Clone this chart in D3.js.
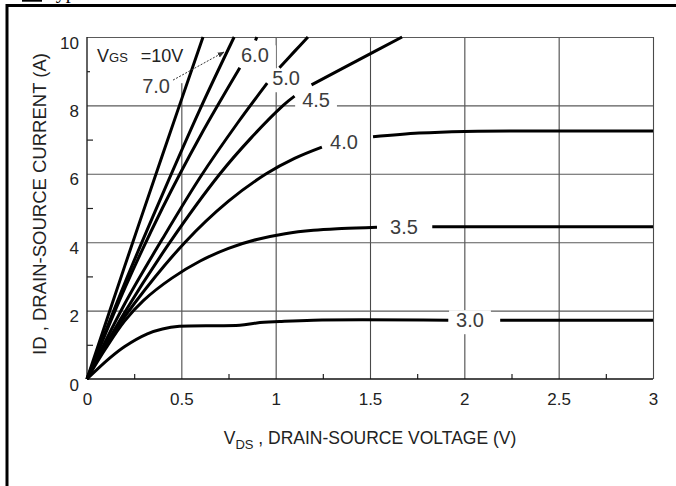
<!DOCTYPE html>
<html>
<head>
<meta charset="utf-8">
<script src="https://cdn.jsdelivr.net/npm/d3@7"></script>
<style>
  body { margin: 0; background: #fff; }
  svg { display: block; font-family: "Liberation Sans", Arial, sans-serif; }
</style>
</head>
<body>
<div id="chart"></div>
<script>
// Output characteristics: [VDS (V), ID (A)]
// null marks the gap in a curve where its VGS label sits
const curve10 = [[0, 0], [0.2, 3.3], [0.4, 6.55], [0.615, 10]];
const curve70 = [[0, 0], [0.2, 2.8], [0.4, 5.4], [0.6, 7.9], [0.78, 10]];
const curve60 = [[0, 0], [0.2, 2.65], [0.4, 5.0], [0.6, 7.1], [0.81, 9.1], null, [0.893, 9.9], [0.90, 10]];
const curve50 = [[0, 0], [0.2, 2.2], [0.4, 4.1], [0.6, 5.9], [0.8, 7.5], [0.955, 8.65], null, [1.02, 9.1], [1.1, 9.58], [1.171, 10]];
const curve45 = [[0, 0], [0.2, 1.95], [0.44, 4], [0.705, 6], [0.87, 7.05], [1.04, 8], [1.10, 8.27], null, [1.19, 8.6], [1.43, 9.3], [1.67, 10]];
const curve40 = [[0, 0], [0.1, 1.0], [0.25, 2.2], [0.52, 4], [0.75, 5.2], [0.95, 6], [1.1, 6.45], [1.245, 6.78], null, [1.516, 7.08], [1.76, 7.19], [2.0, 7.24], [2.5, 7.25], [3, 7.25]];
const curve35 = [[0, 0], [0.1, 0.9], [0.2, 1.7], [0.3, 2.3], [0.45, 2.95], [0.6, 3.45], [0.75, 3.82], [0.9, 4.08], [1.05, 4.25], [1.2, 4.35], [1.35, 4.4], [1.537, 4.44], null, [1.83, 4.45], [2.5, 4.45], [3, 4.45]];
const curve30 = [[0, 0], [0.12, 0.61], [0.2, 0.95], [0.32, 1.32], [0.4, 1.46], [0.49, 1.54], [0.81, 1.57], [0.9, 1.64], [1.02, 1.68], [1.2, 1.72], [1.915, 1.72], null, [2.19, 1.72], [3, 1.72]];

const curves = [curve10, curve70, curve60, curve50, curve45, curve40, curve35, curve30];

// curve labels and where they sit (text centre, in V / A)
const labelText = ["6.0", "5.0", "4.5", "4.0", "3.5", "3.0"];
const labelAt = [[0.89, 9.47], [1.055, 8.80], [1.214, 8.16], [1.362, 6.93], [1.68, 4.44], [2.03, 1.725]];
const label70At = [0.366, 8.57];
const arrow70 = [[0.456, 8.74], [0.726, 9.56]];

const xTicks = [0, 0.5, 1, 1.5, 2, 2.5, 3];
const yTicks = [0, 2, 4, 6, 8, 10];
const xMinor = [0.25, 0.75, 1.25, 1.75, 2.25, 2.75];
const yMinor = [1, 3, 5, 7, 9];

const props = {
  width: 676,
  height: 486,
  left: 87,
  top: 37,
  plotW: 566,
  plotH: 342,
};

const svg = d3.select("#chart").append("svg")
  .attr("width", props.width)
  .attr("height", props.height);

// clipped heading of the page and the outer frame
svg.append("rect")
  .attr("x", 22).attr("y", -20)
  .attr("width", 20).attr("height", 21.7)
  .attr("fill", "#000");
svg.append("text")
  .attr("x", 45).attr("y", -2)
  .style("font-family", "'Liberation Serif', 'Times New Roman', serif")
  .style("font-size", "20px")
  .text("Typical Characteristics");
svg.append("rect")
  .attr("x", 7).attr("y", 5.5)
  .attr("width", 720).attr("height", 520)
  .attr("fill", "none")
  .attr("stroke", "#000")
  .attr("stroke-width", 3);

const x = d3.scaleLinear().domain([0, 3]).range([props.left, props.left + props.plotW]);
const y = d3.scaleLinear().domain([0, 10]).range([props.top + props.plotH, props.top]);

const gGrid = svg.append("g");
const gBoxes = svg.append("g");
const gCurves = svg.append("g");
const gText = svg.append("g");

// grid lines
gGrid.append("g")
  .attr("class", "grid")
  .attr("transform", `translate(0,${y(0)})`)
  .call(d3.axisBottom(x).tickValues(xTicks.slice(1)).tickSize(-props.plotH).tickFormat(""))
  .call(g => g.select(".domain").remove())
  .call(g => g.selectAll("line").attr("stroke", "#4a4a4a").attr("stroke-width", 1.1));

gGrid.append("g")
  .attr("class", "grid")
  .attr("transform", `translate(${x(0)},0)`)
  .call(d3.axisLeft(y).tickValues(yTicks.slice(1)).tickSize(-props.plotW).tickFormat(""))
  .call(g => g.select(".domain").remove())
  .call(g => g.selectAll("line").attr("stroke", "#5a5a5a").attr("stroke-width", 1.1));

// minor ticks, pointing into the plot
gGrid.append("g")
  .attr("transform", `translate(0,${y(0)})`)
  .call(d3.axisBottom(x).tickValues(xMinor).tickSize(-5).tickFormat(""))
  .call(g => g.select(".domain").remove())
  .call(g => g.selectAll("line").attr("stroke", "#222").attr("stroke-width", 1.2));

gGrid.append("g")
  .attr("transform", `translate(${x(0)},0)`)
  .call(d3.axisLeft(y).tickValues(yMinor).tickSize(-6).tickFormat(""))
  .call(g => g.select(".domain").remove())
  .call(g => g.selectAll("line").attr("stroke", "#222").attr("stroke-width", 1.2));

// axis lines
gGrid.append("line")
  .attr("x1", x(0)).attr("x2", x(3))
  .attr("y1", y(0)).attr("y2", y(0))
  .attr("stroke", "#111").attr("stroke-width", 1.6);
gGrid.append("line")
  .attr("x1", x(0)).attr("x2", x(0))
  .attr("y1", y(0)).attr("y2", y(10))
  .attr("stroke", "#222").attr("stroke-width", 1.4);

// tick labels
const xAxis = svg.append("g")
  .attr("transform", `translate(0,${y(0)})`)
  .call(d3.axisBottom(x).tickValues(xTicks).tickSize(0).tickPadding(14).tickFormat(d => String(d)));
xAxis.select(".domain").remove();
xAxis.selectAll("text")
  .style("font-size", "17px")
  .attr("fill", "#222");

const yAxis = svg.append("g")
  .attr("transform", `translate(${x(0) - 8},0)`)
  .call(d3.axisLeft(y).tickValues(yTicks).tickSize(0).tickPadding(0).tickFormat(d => String(d)));
yAxis.select(".domain").remove();
yAxis.selectAll("text")
  .style("font-size", "17px")
  .attr("fill", "#222")
  .attr("dy", "0.95em")
  .attr("y", -5);

// axis titles
const xTitle = svg.append("text")
  .attr("x", (x(0) + x(3)) / 2)
  .attr("y", 444)
  .style("text-anchor", "middle")
  .style("font-size", "17.5px")
  .attr("fill", "#222");
xTitle.append("tspan").text("V");
xTitle.append("tspan").attr("dy", 5).style("font-size", "13px").text("DS");
xTitle.append("tspan").attr("dy", -5).text(" , DRAIN-SOURCE VOLTAGE (V)");

svg.append("text")
  .attr("transform", `translate(46,${(y(0) + y(10)) / 2 - 4}) rotate(-90)`)
  .style("text-anchor", "middle")
  .style("font-size", "18.5px")
  .attr("fill", "#222")
  .text("ID , DRAIN-SOURCE CURRENT (A)");

// white box behind the VGS note
gBoxes.append("rect")
  .attr("x", x(0) + 3).attr("y", y(10) + 1)
  .attr("width", x(0.56) - x(0) - 3)
  .attr("height", y(8.65) - y(10) - 1)
  .attr("fill", "#fff");

// curves
const line = d3.line()
  .defined(d => d !== null)
  .x(d => x(d[0]))
  .y(d => y(d[1]))
  .curve(d3.curveCatmullRom.alpha(0.5));

gCurves.selectAll(".curve")
  .data(curves)
  .enter().append("path")
  .attr("class", "curve")
  .attr("fill", "none")
  .attr("stroke", "#000")
  .attr("stroke-width", 3)
  .attr("stroke-linejoin", "round")
  .attr("d", line);

// curve labels with their white boxes
gText.selectAll(".vlabel")
  .data(labelText)
  .enter().append("text")
  .attr("class", "vlabel")
  .attr("x", (d, i) => x(labelAt[i][0]))
  .attr("y", (d, i) => y(labelAt[i][1]))
  .attr("dy", "0.36em")
  .style("text-anchor", "middle")
  .style("font-size", "20px")
  .attr("fill", "#3c3c3c")
  .text(d => d)
  .each(function () {
    const b = this.getBBox();
    gBoxes.append("rect")
      .attr("x", b.x - 7).attr("y", b.y + 1)
      .attr("width", b.width + 14).attr("height", b.height + 2)
      .attr("fill", "#fff");
  });

gText.append("text")
  .attr("x", x(label70At[0]))
  .attr("y", y(label70At[1]))
  .attr("dy", "0.36em")
  .style("text-anchor", "middle")
  .style("font-size", "20px")
  .attr("fill", "#3c3c3c")
  .text("7.0");

// arrow from 7.0 to its curve
svg.append("defs").append("marker")
  .attr("id", "arrow")
  .attr("viewBox", "0 0 10 10")
  .attr("refX", 9).attr("refY", 5)
  .attr("markerWidth", 7).attr("markerHeight", 7)
  .attr("orient", "auto")
  .append("path")
  .attr("d", "M0,1 L10,5 L0,9 z")
  .attr("fill", "#333");

gText.append("line")
  .attr("x1", x(arrow70[0][0])).attr("y1", y(arrow70[0][1]))
  .attr("x2", x(arrow70[1][0])).attr("y2", y(arrow70[1][1]))
  .attr("stroke", "#333")
  .attr("stroke-width", 1)
  .attr("stroke-dasharray", "2,1.5")
  .attr("marker-end", "url(#arrow)");

// VGS = 10V note
const vgs = gText.append("text")
  .attr("x", 97)
  .attr("y", 62)
  .style("font-size", "18px")
  .attr("fill", "#222");
vgs.append("tspan").text("V");
vgs.append("tspan").style("font-size", "13px").text("GS");
vgs.append("tspan").attr("dx", 13).text("=10V");
</script>
</body>
</html>
